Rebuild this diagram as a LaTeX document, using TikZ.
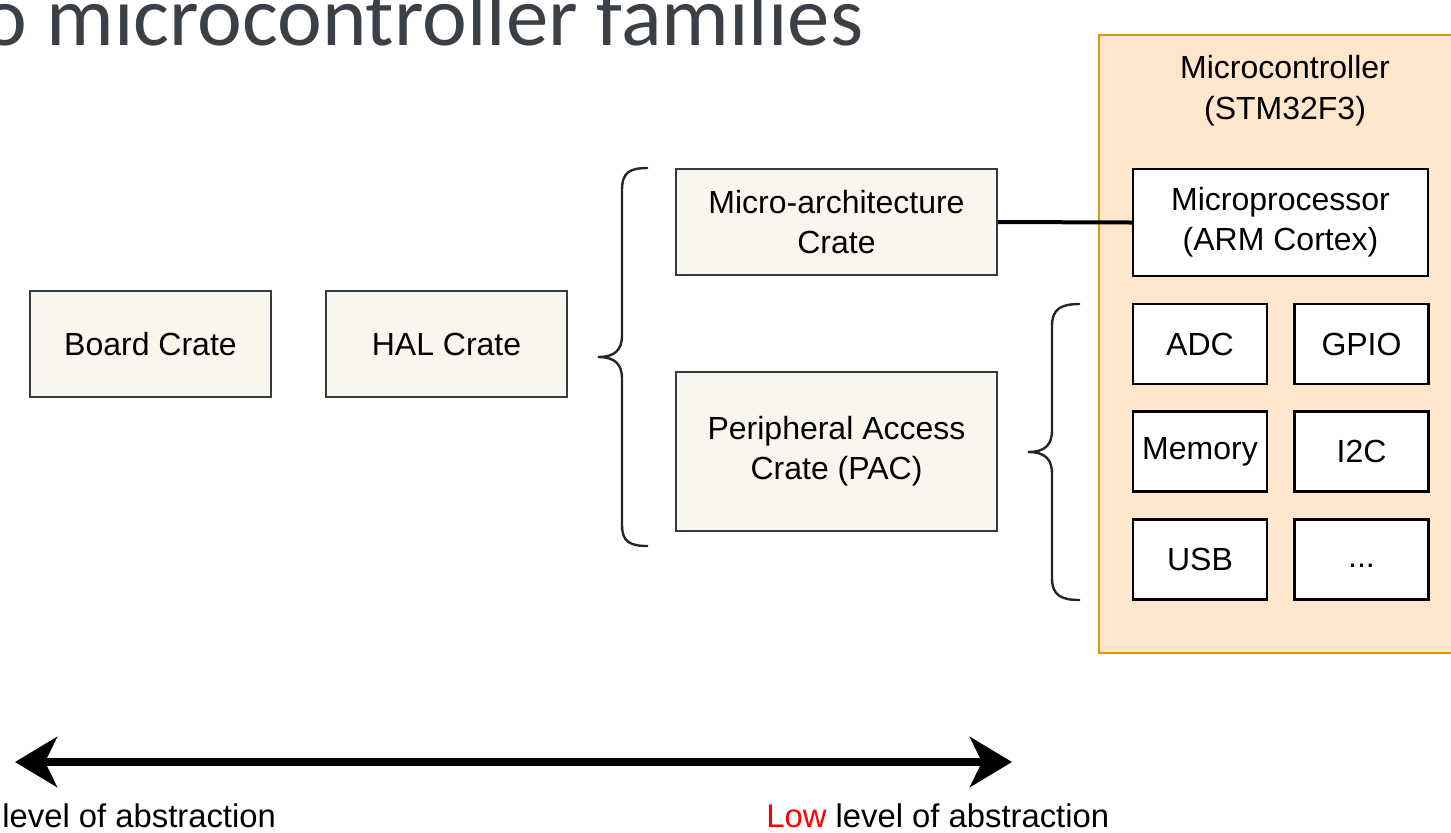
\documentclass[tikz,border=0pt]{standalone}
\usepackage{fontspec}
\setmainfont{Liberation Sans}
\newfontfamily\titlefont{Carlito}
\usetikzlibrary{arrows.meta}
\definecolor{cratefill}{HTML}{F9F7ED}
\definecolor{crateline}{HTML}{36393D}
\definecolor{chipfill}{HTML}{FFE6CC}
\definecolor{chipline}{HTML}{D79B00}
\definecolor{titlegray}{HTML}{3B4046}
\definecolor{lowred}{HTML}{FF0000}
\begin{document}
\begin{tikzpicture}[
    x=0.5pt, y=-0.5pt,
    crate/.style={rectangle, draw=crateline, fill=cratefill, line width=1pt, align=center, font=\fontsize{16}{20}\selectfont},
    unit/.style={rectangle, draw=black, fill=white, line width=1.2pt, align=center, font=\fontsize{16}{20}\selectfont, minimum width=67pt, minimum height=40pt},
    chip/.style={rectangle, draw=chipline, fill=chipfill, line width=1pt},
    brace/.style={line width=1.2pt, draw=black!85},
    caption/.style={inner sep=0pt, font=\fontsize{16.4}{20}\selectfont},
    >={Stealth[length=21pt, width=25pt, inset=6pt]}
]
\useasboundingbox (0,0) rectangle (1451,832);
\clip (0,0) rectangle (1451,832);

% Titel (angeschnitten)
\node[anchor=base west, inner sep=0pt, text=titlegray, font=\titlefont\fontsize{42.4}{50}\selectfont] (title) at (-18,45) {o microcontroller families};

% Crates
\node[crate, minimum width=120.5pt, minimum height=53pt] (board) at (150.5,344) {Board Crate};
\node[crate, minimum width=120.5pt, minimum height=53pt] (hal) at (446.5,344) {HAL Crate};
\node[crate, minimum width=160.5pt, minimum height=53pt] (march) at (836.5,222) {Micro-architecture\\Crate};
\node[crate, minimum width=160.5pt, minimum height=79.5pt] (pac) at (836.5,451.5) {Peripheral Access\\Crate (PAC)};

% Klammern
\draw[brace] (648,168) .. controls (630,168) and (622,172) .. (622,190) -- (622,335)
    .. controls (622,350) and (615,357) .. (598,357)
    .. controls (615,357) and (622,364) .. (622,379) -- (622,525)
    .. controls (622,542) and (630,546) .. (648,546);
\draw[brace] (1080,304) .. controls (1062,304) and (1052,308) .. (1052,326) -- (1052,430)
    .. controls (1052,445) and (1045,452) .. (1028,452)
    .. controls (1045,452) and (1052,459) .. (1052,474) -- (1052,578)
    .. controls (1052,596) and (1062,600) .. (1080,600);

% Mikrocontroller
\node[chip, minimum width=186pt, minimum height=309pt] (mcu) at (1285,344) {};
\node[align=center, font=\fontsize{16}{20.5}\selectfont] (mcutitle) at (1285,91) {Microcontroller\\(STM32F3)};
\node[unit, minimum width=147.5pt, minimum height=53.5pt] (mproc) at (1280.5,222.5) {Microprocessor\\(ARM Cortex)};
\node[unit] (adc) at (1200,344) {ADC};
\node[unit] (gpio) at (1361.5,344) {GPIO};
\node[unit] (memory) at (1200,451.5) {Memory};
\node[unit] (itwoc) at (1361.5,451.5) {I2C};
\node[unit] (usb) at (1200,559.5) {USB};
\node[unit] (more) at (1361.5,559.5) {\strut...};

% Verbindung
\draw[line width=2pt] (march.east) -- (mproc.west);

% Abstraktionspfeil
\coordinate (lefttip) at (15,762);
\coordinate (righttip) at (1012,762);
\draw[<->, line width=4pt] (lefttip) -- (righttip);
\node[caption, anchor=west] (highlabel) at (2,816) {level of abstraction};
\node[caption, anchor=west] (lowlabel) at (766,816) {\textcolor{lowred}{Low} level of abstraction};
\end{tikzpicture}
\end{document}
